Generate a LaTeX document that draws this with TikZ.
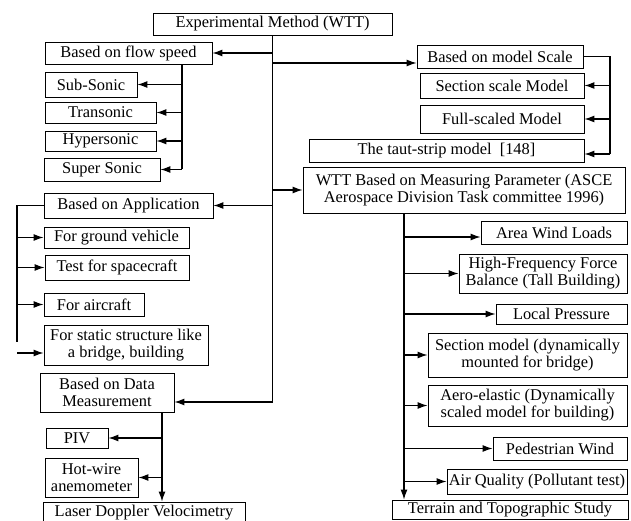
\documentclass[tikz,border=0pt]{standalone}
\usepackage{fontspec}
\setmainfont{Liberation Serif}
\usetikzlibrary{arrows.meta,calc}

\begin{document}
\begin{tikzpicture}[x=1pt,y=-1pt,font=\fontsize{16.4}{17}\selectfont,
 blk/.style={draw,line width=0.9pt,inner sep=0pt,align=center},
 ln/.style={line width=1.1pt},
 arr/.style={ln,-{Latex[length=10pt,width=7pt]}}]
\useasboundingbox (0,0) rectangle (631,521);
\clip (0,0) rectangle (631,521);
\foreach \n/\x/\y/\w/\h/\t in {
 top/272.5/24/239/22/{Experimental Method (WTT)},
 flow/128.5/53/167/22/{Based on flow speed},
 sub/91/84.5/92/25/{Sub-Sonic},
 trans/100.5/112.5/111/21/{Transonic},
 hyper/100.5/141/111/20/{Hypersonic},
 super/102/169.5/116/23/{Super Sonic},
 app/128.5/205.5/169/25/{Based on Application},
 ground/116.5/237.5/145/21/{For ground vehicle},
 space/117/267.5/144/25/{Test for spacecraft},
 air/94/304.5/100/23/{For aircraft},
 static/126/345/164/40/{For static structure like\\a bridge, building},
 data/107/392.5/134/39/{Based on Data\\Measurement},
 piv/77/438/62/20/{PIV},
 hot/91.5/477.5/93/39/{Hot-wire\\anemometer},
 laser/144/513/202/22/{Laser Doppler Velocimetry},
 scale/500/56.5/166/23/{Based on model Scale},
 secs/502/85.5/164/25/{Section scale Model},
 full/502/119/164/28/{Full-scaled Model},
 taut/446.5/150.5/275/23/{The taut-strip model\ \ [148]},
 wtt/464/190/322/46/{WTT Based on Measuring Parameter (ASCE\\Aerospace Division Task committee 1996)},
 area/554/232.5/146/23/{Area Wind Loads},
 hff/543/273.5/168/39/{High-Frequency Force\\Balance (Tall Building)},
 local/561.5/314/131/20/{Local Pressure},
 secm/527.5/355/199/44/{Section model (dynamically\\mounted for bridge)},
 aero/527.5/405.5/199/41/{Aero-elastic (Dynamically\\scaled model for building)},
 ped/560/448.5/134/23/{Pedestrian Wind},
 airq/537/481.5/180/25/{Air Quality (Pollutant test)},
 terrain/510/509.5/236/19/{Terrain and Topographic Study}}
 \node[blk,minimum width=\w pt,minimum height=\h pt] (\n) at (\x,\y) {\t};

% main trunk
\draw[arr] (top.south) |- ([yshift=-9.5pt]data.east);
\draw[arr] (top.south |- flow.east) -- (flow.east);
\draw[arr] (top.south |- app.east) -- (app.east);
\draw[arr] (top.south |- wtt.west) -- (wtt.west);
\coordinate (sw) at ([yshift=-6.5pt]scale.west);
\draw[arr] (top.south |- sw) -- (sw);

% flow speed
\coordinate (fs) at (182,0);
\draw[ln] (fs |- flow.south) -- (fs |- super.east);
\foreach \n in {sub,trans,hyper,super}
 \draw[arr] (fs |- \n.east) -- (\n.east);

% application
\coordinate (ap) at (17,0);
\coordinate (apend) at (17,342);
\coordinate (apst) at (17,353);
\draw[ln] (app.west) -| (apend);
\foreach \n in {ground,space,air}
 \draw[arr] (ap |- \n.west) -- (\n.west);
\draw[arr] (apst) -- (apst -| static.west);

% data measurement
\coordinate (dm) at (162,0);
\draw[arr] (dm |- data.south) -- (dm |- laser.north);
\foreach \n in {piv,hot}
 \draw[arr] (dm |- \n.east) -- (\n.east);

% model scale
\coordinate (ms) at (610,0);
\coordinate (tt) at ([yshift=-3.5pt]taut.east);
\draw[ln] (scale.east) -| (ms |- tt);
\draw[arr] (ms |- tt) -- (tt);
\foreach \n in {secs,full}
 \draw[arr] (ms |- \n.east) -- (\n.east);

% measuring parameter
\coordinate (mp) at (404,0);
\draw[arr] (mp |- wtt.south) -- (mp |- terrain.north);
\coordinate (aw) at ([yshift=-4.5pt]area.west);
\draw[arr] (mp |- aw) -- (aw);
\foreach \n in {hff,local,secm,aero,ped,airq}
 \draw[arr] (mp |- \n.west) -- (\n.west);
\end{tikzpicture}
\end{document}
